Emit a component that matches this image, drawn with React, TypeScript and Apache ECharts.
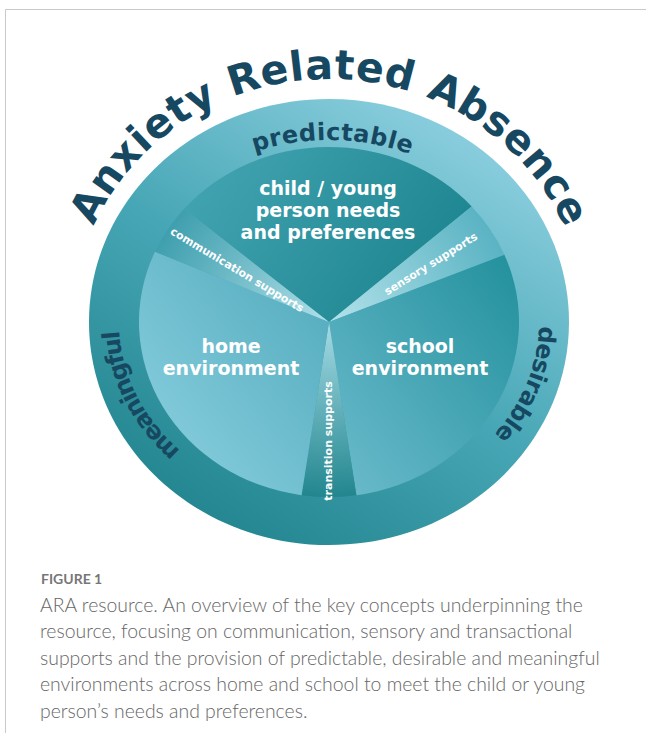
import React, { useEffect, useRef } from 'react';
import * as echarts from 'echarts';

// ---------- data ----------
const TITLE = 'Anxiety Related Absence';
const RING_WORDS = ['predictable', 'desirable', 'meaningful'];
const SEGMENT_NAMES = [
  'child / young person needs and preferences',
  'sensory supports',
  'school environment',
  'transition supports',
  'home environment',
  'communication supports',
];
const SEGMENT_SWEEPS = [103, 18, 102, 18, 103, 16]; // degrees of each segment, clockwise
const REGION_LABELS = ['child / young\nperson needs\nand preferences', 'school\nenvironment', 'home\nenvironment'];
const SPOKE_LABELS = ['communication supports', 'sensory supports', 'transition supports'];
const CAPTION_HEAD = 'FIGURE 1';
const CAPTION_LINES = [
  'ARA resource. An overview of the key concepts underpinning the',
  'resource, focusing on communication, sensory and transactional',
  'supports and the provision of predictable, desirable and meaningful',
  'environments across home and school to meet the child or young',
  'person\u2019s needs and preferences.',
];

// ---------- layout ----------
const W = 646;
const H = 733;
const CX = 329;
const CY = 322;
const OUT_RX = 240;
const OUT_RY = 223;
const IN_RX = 190;
const IN_RY = 175;
const K = IN_RY / IN_RX;
const START_DEG = 218;
const NAVY = '#174861';
const FONT = '"DejaVu Sans", sans-serif';
const CAP_FONT = 'Lato, "Open Sans", sans-serif';

const rad = (d: number) => (d * Math.PI) / 180;

let ctx2d: CanvasRenderingContext2D | null = null;
function textWidth(s: string, font: string) {
  if (!ctx2d) ctx2d = document.createElement('canvas').getContext('2d');
  ctx2d!.font = font;
  return ctx2d!.measureText(s).width;
}
const speed = (t: number, rx: number, ry: number) => Math.hypot(rx * Math.sin(t), ry * Math.cos(t));
function arcLen(t0: number, t1: number, rx: number, ry: number) {
  const n = 400;
  const dt = (t1 - t0) / n;
  let s = 0;
  for (let i = 0; i < n; i++) s += speed(t0 + (i + 0.5) * dt, rx, ry) * dt;
  return s;
}
function walk(t: number, d: number, rx: number, ry: number) {
  const step = 0.0005;
  let rem = d;
  let tt = t;
  while (rem > 0) {
    const sp = speed(tt, rx, ry);
    const ds = sp * step;
    if (ds >= rem) {
      tt += rem / sp;
      rem = 0;
    } else {
      tt += step;
      rem -= ds;
    }
  }
  return tt;
}

function arcText(text: string, rx: number, ry: number, fromDeg: number, toDeg: number, size: number, color: string) {
  const font = `bold ${size}px ${FONT}`;
  const chars = Array.from(text);
  const widths = chars.map((c) => textWidth(c, font));
  const t0 = rad(fromDeg);
  const t1 = rad(toDeg);
  const L = arcLen(t0, t1, rx, ry);
  const natural = widths.reduce((a, b) => a + b, 0) - widths[0] / 2 - widths[widths.length - 1] / 2;
  const gap = (L - natural) / (chars.length - 1);
  const els: any[] = [];
  let t = t0;
  chars.forEach((c, i) => {
    if (i > 0) t = walk(t, Math.max(0.5, widths[i - 1] / 2 + gap + widths[i] / 2), rx, ry);
    if (c === ' ') return;
    const x = CX + rx * Math.cos(t);
    const y = CY + ry * Math.sin(t);
    const phi = Math.atan2(ry * Math.cos(t), -rx * Math.sin(t));
    els.push({
      type: 'text',
      x,
      y,
      rotation: -phi,
      style: { text: c, fill: color, fontSize: size, fontWeight: 'bold', fontFamily: FONT, align: 'center', verticalAlign: 'middle' },
    });
  });
  return els;
}

function toCircle(deg: number) {
  const r = rad(deg);
  const v = Math.atan2(Math.sin(r) / K, Math.cos(r));
  return v + 2 * Math.PI * Math.round((r - v) / (2 * Math.PI));
}

const lin = (x: number, y: number, x2: number, y2: number, stops: [number, string][]) => ({
  type: 'linear',
  x,
  y,
  x2,
  y2,
  colorStops: stops.map(([offset, color]) => ({ offset, color })),
});
const radial = (stops: [number, string][]) => ({
  type: 'radial',
  x: 0,
  y: 0,
  r: IN_RX,
  global: true,
  colorStops: stops.map(([offset, color]) => ({ offset, color })),
});

const SEGMENT_FILLS = [
  lin(0, 0.3, 1, 0.7, [[0, '#42a3b0'], [1, '#1a838e']]),
  radial([[0, '#b3e2ea'], [1, '#5ab3c3']]),
  lin(1, 0, 0, 1, [[0, '#22909c'], [1, '#6dbccd']]),
  radial([[0, '#a6dbe5'], [1, '#22868f']]),
  lin(1, 0, 0, 1, [[0, '#4fa9bb'], [1, '#8ed2e2']]),
  radial([[0, '#b0e0e9'], [1, '#3f9fae']]),
];

function buildOption() {
  const elements: any[] = [];
  // frame
  elements.push({ type: 'line', shape: { x1: 5.5, y1: 9.5, x2: W, y2: 9.5 }, style: { stroke: '#c9c9c9', lineWidth: 1 } });
  elements.push({ type: 'line', shape: { x1: 5.5, y1: 9.5, x2: 5.5, y2: H }, style: { stroke: '#c9c9c9', lineWidth: 1 } });

  // outer ring
  elements.push({
    type: 'ellipse',
    shape: { cx: CX, cy: CY, rx: OUT_RX, ry: OUT_RY },
    style: { fill: lin(0.8, 0.05, 0.2, 0.95, [[0, '#8ed0e0'], [0.5, '#48a7b6'], [1, '#21848e']]) },
  });

  // inner segments
  let a = START_DEG;
  const sectors = SEGMENT_SWEEPS.map((sw, i) => {
    const s = toCircle(a);
    let e = toCircle(a + sw);
    if (e <= s) e += 2 * Math.PI;
    a += sw;
    return {
      type: 'sector',
      name: SEGMENT_NAMES[i],
      shape: { cx: 0, cy: 0, r: IN_RX, r0: 0, startAngle: s, endAngle: e, clockwise: true },
      style: { fill: SEGMENT_FILLS[i], stroke: null },
    };
  });
  elements.push({ type: 'group', x: CX, y: CY, scaleY: K, children: sectors });

  // title and ring words
  elements.push(...arcText(TITLE, 270, 257, 207, 334, 41, NAVY));
  elements.push(...arcText(RING_WORDS[0], 218, 190, 251.6, 290.4, 24, NAVY));
  elements.push(...arcText(RING_WORDS[1], 218, 190, 4, 36, 24, NAVY));
  elements.push(...arcText(RING_WORDS[2], 218, 190, 138.5, 176, 24, NAVY));

  // region labels
  const regionPos = [
    [328, 210],
    [420, 357],
    [231, 357],
  ];
  REGION_LABELS.forEach((txt, i) => {
    elements.push({
      type: 'text',
      x: regionPos[i][0],
      y: regionPos[i][1],
      style: {
        text: txt,
        fill: '#ffffff',
        fontSize: 19,
        fontWeight: 'bold',
        fontFamily: FONT,
        align: 'center',
        verticalAlign: 'middle',
        lineHeight: 22,
      },
    });
  });

  // spoke labels
  const spokePos = [
    [237, 270, -31],
    [431, 264, 32],
    [328, 441, 90],
  ];
  SPOKE_LABELS.forEach((txt, i) => {
    elements.push({
      type: 'text',
      x: spokePos[i][0],
      y: spokePos[i][1],
      rotation: rad(spokePos[i][2]),
      style: {
        text: txt,
        fill: '#ffffff',
        fontSize: 11,
        fontWeight: 'bold',
        fontFamily: FONT,
        align: 'center',
        verticalAlign: 'middle',
      },
    });
  });

  // caption
  elements.push({
    type: 'text',
    x: 41,
    y: 578,
    style: { text: CAPTION_HEAD, fill: '#777777', fontSize: 14, fontWeight: 'bold', fontFamily: CAP_FONT, align: 'left', verticalAlign: 'middle' },
  });
  CAPTION_LINES.forEach((line, i) => {
    elements.push({
      type: 'text',
      x: 40,
      y: 604 + i * 26.5,
      style: { text: line, fill: '#666666', fontSize: 19.4, fontWeight: 300, fontFamily: CAP_FONT, align: 'left', verticalAlign: 'middle' },
    });
  });

  return { animation: false, graphic: { elements } };
}

export default function App() {
  const ref = useRef<HTMLDivElement>(null);
  useEffect(() => {
    const chart = echarts.init(ref.current!, null, { renderer: 'svg' });
    chart.setOption(buildOption() as any);
    return () => chart.dispose();
  }, []);
  return <div ref={ref} style={{ position: 'absolute', left: 0, top: 0, width: W, height: H, background: '#ffffff' }} />;
}
